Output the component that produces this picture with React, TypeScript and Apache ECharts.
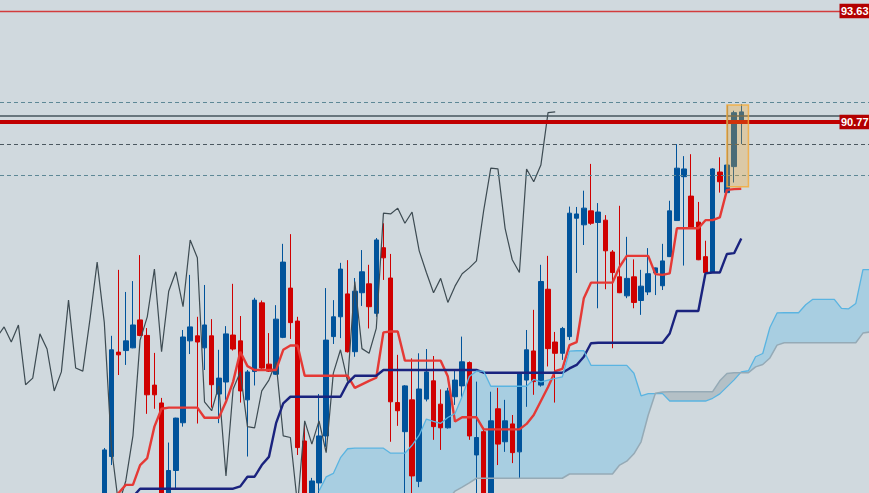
import React, { useEffect, useRef } from "react";
import * as echarts from "echarts";

// ---- bar slots: slot i is one bar on the time axis ----
const SHIFT = 26;
const CANDLE_START = 15;
const TENKAN_START = 15;
const KIJUN_START = 18;
const SENKOU_B_START = 45;
const SENKOU_END = 122;
const X_MIN = 0.426;
const X_MAX = 121.846;

// ---- candles: [open, close, low, high], slots 15..104 ----
const candles: number[][] = [
  [80.77, 82.32, 80.52, 82.37], [82.15, 84.90, 81.93, 85.26], [84.84, 84.77, 84.25, 86.96], [84.88, 85.13, 84.51, 86.39], [84.95, 85.54, 84.94, 86.67],
  [85.67, 85.27, 85.25, 87.34], [85.27, 83.74, 83.25, 85.46], [83.99, 83.74, 83.38, 84.82], [83.53, 80.90, 80.77, 83.66], [81.03, 81.79, 80.90, 82.51],
  [81.79, 83.14, 81.29, 83.15], [83.02, 85.23, 82.92, 85.41], [85.13, 85.49, 84.79, 86.83], [85.26, 85.10, 83.00, 85.75], [84.95, 85.54, 84.38, 86.57],
  [85.26, 84.00, 83.41, 85.69], [83.76, 84.17, 83.01, 84.90], [84.07, 85.31, 83.61, 85.51], [85.28, 84.92, 84.88, 86.60], [85.13, 83.84, 83.54, 85.77],
  [83.61, 84.33, 82.15, 84.38], [84.34, 86.18, 83.98, 86.24], [86.11, 84.43, 84.41, 86.17], [84.53, 84.35, 84.33, 85.33], [84.27, 85.69, 84.25, 86.05],
  [85.22, 87.16, 85.20, 87.63], [86.49, 85.60, 85.18, 87.88], [85.64, 82.38, 82.19, 85.75], [82.55, 80.90, 80.77, 83.05], [81.03, 81.52, 80.90, 81.60],
  [81.47, 82.68, 81.21, 83.76], [82.68, 85.15, 82.40, 86.49], [85.24, 85.75, 85.05, 86.18], [85.75, 86.98, 85.20, 87.14], [86.34, 84.85, 84.83, 87.21],
  [84.85, 86.41, 84.72, 86.75], [86.37, 86.91, 86.03, 87.47], [86.60, 86.01, 85.45, 87.09], [85.84, 87.73, 85.75, 87.78], [87.53, 87.27, 86.70, 88.16],
  [86.75, 83.56, 82.53, 87.37], [83.54, 83.33, 82.94, 84.77], [82.79, 83.97, 81.03, 83.99], [83.61, 81.65, 81.13, 84.68], [81.51, 83.89, 81.36, 84.81],
  [83.63, 84.33, 83.57, 84.92], [84.10, 82.92, 82.58, 84.74], [83.50, 82.89, 82.32, 83.88], [82.89, 83.84, 82.87, 83.92], [83.69, 84.12, 83.48, 84.38],
  [83.97, 84.59, 83.69, 85.24], [84.57, 82.68, 82.58, 84.60], [82.19, 82.64, 81.03, 84.08], [82.79, 80.90, 80.77, 82.89], [80.90, 83.07, 80.77, 83.82],
  [83.38, 82.47, 81.93, 83.92], [82.53, 83.07, 82.27, 83.61], [82.99, 82.25, 81.98, 83.22], [82.27, 84.30, 81.59, 84.31], [84.12, 84.90, 83.43, 85.41],
  [84.87, 84.08, 83.74, 85.93], [83.99, 86.66, 83.95, 87.09], [86.46, 84.93, 84.47, 87.32], [85.10, 84.81, 83.54, 85.36], [84.81, 85.45, 84.64, 85.49],
  [85.24, 88.42, 85.15, 88.59], [88.29, 88.40, 86.88, 88.58], [88.12, 88.55, 87.60, 89.00], [88.48, 88.16, 88.12, 89.69], [88.18, 88.45, 85.97, 88.68],
  [88.24, 87.45, 86.46, 88.37], [87.42, 86.89, 84.94, 87.47], [86.78, 86.37, 86.36, 88.61], [86.29, 86.74, 86.23, 87.81], [86.78, 86.12, 85.97, 87.23],
  [86.17, 86.54, 85.80, 86.96], [86.39, 86.86, 86.31, 87.52], [86.88, 87.01, 86.31, 87.02], [86.55, 87.19, 86.44, 87.63], [87.30, 88.48, 87.29, 88.74],
  [88.23, 89.58, 88.22, 90.20], [89.36, 89.56, 87.07, 89.89], [88.86, 88.03, 88.02, 89.94], [88.19, 87.22, 87.21, 88.71], [87.30, 86.89, 86.88, 87.71],
  [86.89, 89.56, 86.88, 89.58], [89.48, 89.23, 88.95, 89.86], [88.95, 89.66, 88.94, 89.67], [89.62, 91.01, 89.21, 91.06], [90.82, 91.03, 90.20, 91.23],
];

// ---- Tenkan-sen, slots 15..104 ----
const tenkan: number[] = [
  80.90, 81.03, 81.21, 81.42, 81.42, 81.93, 82.11, 82.92, 83.38, 83.41,
  83.41, 83.41, 83.41, 83.41, 83.15, 83.15, 83.15, 83.56, 84.08, 84.85,
  84.48, 84.38, 84.38, 84.38, 84.38, 84.90, 85.01, 85.01, 84.23, 84.23,
  84.23, 84.23, 84.23, 84.23, 84.23, 83.92, 84.01, 84.10, 84.18, 85.35,
  85.37, 85.37, 84.62, 84.62, 84.62, 84.62, 84.62, 84.62, 84.21, 83.05,
  83.16, 83.16, 83.16, 82.85, 82.85, 82.85, 82.85, 82.85, 82.85, 82.99,
  83.22, 83.58, 83.94, 84.35, 84.41, 85.02, 85.10, 86.23, 86.63, 86.63,
  86.63, 86.63, 87.04, 87.32, 87.32, 87.32, 87.32, 86.85, 86.83, 86.87,
  88.03, 88.03, 88.03, 88.03, 88.24, 88.24, 88.31, 89.02, 89.04, 89.05,
];

// ---- Kijun-sen, slots 18..104 ----
const kijun: number[] = [
  80.90, 81.11, 81.32, 81.32, 81.32, 81.32, 81.32, 81.32, 81.32, 81.32,
  81.32, 81.32, 81.32, 81.32, 81.32, 81.32, 81.38, 81.63, 81.63, 81.93,
  82.14, 83.01, 83.52, 83.69, 83.69, 83.69, 83.69, 83.69, 83.69, 83.69,
  83.69, 84.04, 84.23, 84.23, 84.23, 84.23, 84.38, 84.38, 84.38, 84.38,
  84.38, 84.38, 84.38, 84.38, 84.38, 84.38, 84.38, 84.38, 84.38, 84.38,
  84.31, 84.31, 84.31, 84.31, 84.31, 84.31, 84.31, 84.31, 84.31, 84.31,
  84.31, 84.31, 84.42, 84.51, 84.72, 85.07, 85.08, 85.08, 85.08, 85.08,
  85.08, 85.08, 85.08, 85.08, 85.08, 85.08, 85.32, 85.90, 85.90, 85.90,
  85.90, 86.87, 86.89, 86.89, 87.37, 87.39, 87.77,
];

// ---- Senkou Span B (already shifted forward), slots 45..122 ----
const senkouB: number[] = [
  80.6, 80.6, 80.6, 80.6, 80.6, 80.6, 80.6, 80.6, 80.6, 80.6,
  80.6, 80.6, 80.6, 80.6, 80.6, 80.6, 80.6, 80.6, 81.03, 81.26,
  81.36, 81.47, 81.59, 81.59, 81.59, 81.59, 81.59, 81.59, 81.59, 81.59,
  81.59, 81.59, 81.59, 81.59, 81.59, 81.70, 81.70, 81.70, 81.70, 81.70,
  81.70, 81.70, 81.93, 82.03, 82.22, 82.53, 83.22, 83.78, 83.81, 83.82,
  83.82, 83.82, 83.82, 83.82, 83.82, 83.82, 84.10, 84.29, 84.31, 84.31,
  84.31, 84.46, 84.52, 84.69, 85.02, 85.08, 85.08, 85.08, 85.08, 85.08,
  85.08, 85.08, 85.08, 85.08, 85.08, 85.08, 85.33, 85.36,
];

// ---- horizontal levels and highlight ----
const LEVEL_HIGH = 93.63;
const LEVEL_MAIN = 90.77;
const LEVEL_GREY = 90.92;
const DASH_UPPER = 91.28;
const DASH_MID = 90.2;
const DASH_LOWER = 89.4;
const HIGHLIGHT_TOP = 91.21;
const HIGHLIGHT_BOTTOM = 89.1;
const HIGHLIGHT_FROM = 102;
const HIGHLIGHT_TO = 105;
const Y_MIN = 81.21;
const Y_MAX = 93.913;

const BG = "#d0d9de";
const CLOUD_UP = "rgba(81,181,232,0.31)";
const CLOUD_DOWN = "rgba(120,140,150,0.32)";

const series = (start: number, arr: number[]) => arr.map((v, i) => [start + i, v]);

const chikouData = candles
  .map((c, i) => [CANDLE_START + i - SHIFT, c[1]])
  .filter((p) => p[0] >= 0);

const cloudSlots: number[] = [];
for (let k = SENKOU_B_START; k <= SENKOU_END; k++) cloudSlots.push(k);
const spanAAt = (k: number) => {
  const j = k - SHIFT;
  return (tenkan[j - TENKAN_START] + kijun[j - KIJUN_START]) / 2;
};
const spanBAt = (k: number) => senkouB[k - SENKOU_B_START];
const spanAData = cloudSlots.map((k) => [k, spanAAt(k)]);
const spanBData = cloudSlots.map((k) => [k, spanBAt(k)]);

type CP = { x: number; a: number; b: number };
const cloudRuns = (() => {
  const pts: CP[] = cloudSlots.map((k) => ({ x: k, a: spanAAt(k), b: spanBAt(k) }));
  const runs: { up: boolean; pts: CP[] }[] = [];
  let cur: { up: boolean; pts: CP[] } | null = null;
  for (let i = 0; i < pts.length; i++) {
    const p = pts[i];
    const up = p.a >= p.b;
    if (!cur) {
      cur = { up, pts: [p] };
      continue;
    }
    if (up === cur.up) {
      cur.pts.push(p);
    } else {
      const q = pts[i - 1];
      const d0 = q.a - q.b;
      const d1 = p.a - p.b;
      const t = d0 / (d0 - d1);
      const v = q.a + t * (p.a - q.a);
      const c = { x: q.x + t * (p.x - q.x), a: v, b: v };
      cur.pts.push(c);
      runs.push(cur);
      cur = { up, pts: [c, p] };
    }
  }
  if (cur) runs.push(cur);
  return runs;
})();

const lineSeries = (name: string, data: any[], color: string, width: number) => ({
  name,
  type: "line",
  data,
  showSymbol: false,
  symbol: "none",
  silent: true,
  lineStyle: { color, width },
});

const option: any = {
  animation: false,
  backgroundColor: BG,
  grid: { left: 0, right: 0, top: 0, bottom: 0 },
  xAxis: { type: "value", min: X_MIN, max: X_MAX, show: false, splitLine: { show: false } },
  yAxis: { type: "value", min: Y_MIN, max: Y_MAX, show: false, splitLine: { show: false } },
  series: [
    {
      name: "price",
      type: "candlestick",
      data: candles.map((c, i) => [CANDLE_START + i, ...c]),
      encode: { x: 0, y: [1, 2, 3, 4] },
      barWidth: 5,
      silent: true,
      itemStyle: {
        color: "#00539b",
        color0: "#d00000",
        borderColor: "#00539b",
        borderColor0: "#d00000",
        borderWidth: 1,
      },
    },
    lineSeries("chikou", chikouData, "#3d4b52", 1.2),
    lineSeries("tenkan", series(TENKAN_START, tenkan), "#e53935", 2.4),
    lineSeries("kijun", series(KIJUN_START, kijun), "#1a237e", 2.4),
    {
      name: "cloud",
      type: "custom",
      silent: true,
      clip: true,
      data: [[80, 85]],
      encode: { x: 0, y: 1 },
      renderItem: (_params: any, api: any) => ({
        type: "group",
        children: cloudRuns.map((r) => ({
          type: "polygon",
          shape: {
            points: [
              ...r.pts.map((p) => api.coord([p.x, p.a])),
              ...r.pts.slice().reverse().map((p) => api.coord([p.x, p.b])),
            ],
          },
          style: { fill: r.up ? CLOUD_UP : CLOUD_DOWN, stroke: "none" },
        })),
      }),
    },
    lineSeries("spanA", spanAData, "#5ab4e1", 1.3),
    lineSeries("spanB", spanBData, "#95aab6", 1.5),
    {
      name: "levels",
      type: "line",
      data: [],
      silent: true,
      markLine: {
        silent: true,
        symbol: "none",
        label: { show: false },
        lineStyle: { color: "#d23c3c", width: 1.3, type: "solid" },
        animation: false,
        data: [
          { yAxis: LEVEL_HIGH, lineStyle: { color: "#d23c3c", width: 1.3, type: "solid" } },
          { yAxis: DASH_UPPER, lineStyle: { color: "#5d8896", width: 1, type: [4, 3] } },
          { yAxis: LEVEL_GREY, lineStyle: { color: "#46555d", width: 1.5, type: "solid" } },
          { yAxis: LEVEL_MAIN, lineStyle: { color: "#c00000", width: 4, type: "solid" } },
          { yAxis: DASH_MID, lineStyle: { color: "#4b5860", width: 1, type: [4, 3] } },
          { yAxis: DASH_LOWER, lineStyle: { color: "#5d8896", width: 1, type: [4, 3] } },
          [
            { xAxis: HIGHLIGHT_FROM, yAxis: HIGHLIGHT_TOP, lineStyle: { color: "#55646c", width: 1.2, type: "solid" } },
            { xAxis: HIGHLIGHT_FROM, yAxis: HIGHLIGHT_BOTTOM },
          ],
        ],
      },
      markArea: {
        silent: true,
        z: 10,
        itemStyle: {
          color: "rgba(245,166,35,0.3)",
          borderColor: "rgba(245,172,60,0.85)",
          borderWidth: 1.5,
        },
        data: [[
          { xAxis: HIGHLIGHT_FROM, yAxis: HIGHLIGHT_TOP },
          { xAxis: HIGHLIGHT_TO, yAxis: HIGHLIGHT_BOTTOM },
        ]],
      },
    },
  ],
};

export default function App() {
  const ref = useRef<HTMLDivElement>(null);
  useEffect(() => {
    document.body.style.margin = "0";
    const chart = echarts.init(ref.current as HTMLDivElement, undefined, {
      renderer: "svg",
      width: 869,
      height: 493,
    });
    chart.setOption(option);
    const tag = (value: number) => {
      const y = chart.convertToPixel({ yAxisIndex: 0 }, value) as number;
      return {
        type: "group",
        z: 100,
        children: [
          {
            type: "rect",
            z: 100,
            shape: { x: 839.5, y: y - 7.2, width: 42, height: 14.4 },
            style: { fill: "#b30000" },
          },
          {
            type: "text",
            z: 101,
            x: 841,
            y,
            style: {
              text: value.toFixed(2),
              fill: "#ffffff",
              fontSize: 11,
              fontWeight: "bold",
              fontFamily: "Liberation Sans, Arial, sans-serif",
              verticalAlign: "middle",
              align: "left",
            },
          },
        ],
      };
    };
    chart.setOption({ graphic: [tag(LEVEL_HIGH), tag(LEVEL_MAIN)] });
    return () => chart.dispose();
  }, []);
  return (
    <div
      ref={ref}
      style={{ position: "fixed", left: 0, top: 0, width: 869, height: 493, background: BG }}
    />
  );
}
